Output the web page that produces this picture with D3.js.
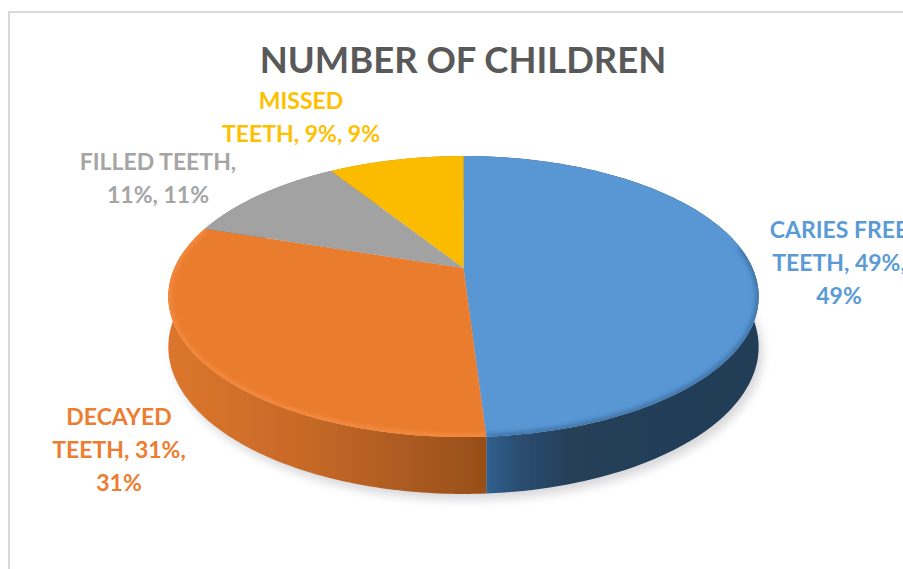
<!DOCTYPE html>
<html>
<head>
<meta charset="utf-8">
<style>
  html, body { margin: 0; padding: 0; background: #fff; overflow: hidden; }
  svg { display: block; }
  text { font-family: Lato, "Open Sans", sans-serif; font-weight: 700; }
</style>
<script src="https://cdn.jsdelivr.net/npm/d3@7/dist/d3.min.js"></script>
</head>
<body>
<svg id="chart" width="903" height="569"></svg>
<script>
// Chart content
const chartTitle = "NUMBER OF CHILDREN";
const categories = ["CARIES FREE TEETH", "DECAYED TEETH", "FILLED TEETH", "MISSED TEETH"];
const shares = [49, 31, 11, 9];
const wordsPerLine = [[2, 2, 1], [1, 2, 1], [2, 2], [1, 3]];

// Palette per slice
const topColors = ["#5896d4", "#ea7b2e", "#a2a2a2", "#fbbc05"];
const labelColors = ["#5b9bd5", "#ed7d31", "#a5a5a5", "#ffc000"];
const sideStops = [
  [[0, "#2f5f8e"], [0.12, "#2a4d70"], [0.3, "#253f59"], [1, "#233d57"]],
  [[0, "#dc762d"], [0.45, "#c66827"], [0.8, "#a7581f"], [1, "#974e18"]],
  [[0, "#6f6f6f"], [1, "#6f6f6f"]],
  [[0, "#ab8000"], [1, "#ab8000"]]
];

// Label anchors (centre x, first baseline y)
const labelAnchors = [[839, 238], [119, 425], [158, 170], [301, 109]];
const lineHeight = 33;

// Perspective model of the tilted disc
const view = { cx: 463.5, cy: 268, rx: 289, ry: 134.7, tilt: 0.203, drop: 49, ryBase: 141 };
const rim = (a, base) => {
  const u = Math.sin(a), v = -Math.cos(a), w = 1 - view.tilt * v;
  return [
    view.cx + view.rx * u / w,
    view.cy + (base ? view.drop : 0) + (base ? view.ryBase : view.ry) * v / w
  ];
};
const sampleArc = (a0, a1, base) =>
  d3.range(0, 121).map(i => rim(a0 + (a1 - a0) * i / 120, base));

const svg = d3.select("#chart");
const defs = svg.append("defs");
const line = d3.line();

const blur = (id, dev) =>
  defs.append("filter").attr("id", id)
    .attr("x", "-10%").attr("y", "-10%").attr("width", "120%").attr("height", "120%")
    .append("feGaussianBlur").attr("stdDeviation", dev);
blur("soft", 0.7);
blur("rimSoft", 2.2);
blur("shadow", 5);

const slices = d3.pie().sort(null).value(d => d)(shares);

// Chart frame
svg.append("rect")
  .attr("x", 9).attr("y", 12).attr("width", 960).attr("height", 640)
  .attr("fill", "#fff").attr("stroke", "#d9d9d9").attr("stroke-width", 2);

// Soft ground shadow under the disc
svg.append("path")
  .attr("d", line(sampleArc(0, 2 * Math.PI, true)) + "Z")
  .attr("transform", "translate(4,6)")
  .attr("fill", "#d8d8dc")
  .attr("filter", "url(#shadow)");

// Side wall gradients run left to right across the wall
sideStops.forEach((stops, i) => {
  const reversed = i === 0;
  const g = defs.append("linearGradient").attr("id", "side" + i)
    .attr("gradientUnits", "userSpaceOnUse")
    .attr("x1", reversed ? 487 : 168).attr("x2", reversed ? 760 : 487)
    .attr("y1", 0).attr("y2", 0);
  stops.forEach(([o, c]) => g.append("stop").attr("offset", o).attr("stop-color", c));
});

const pieGroup = svg.append("g").attr("filter", "url(#soft)");

// Side walls
pieGroup.selectAll("path.wall").data(slices).join("path")
  .attr("class", "wall")
  .attr("d", d => line(
    sampleArc(d.startAngle, d.endAngle, false)
      .concat(sampleArc(d.endAngle, d.startAngle, true))) + "Z")
  .attr("fill", (d, i) => `url(#side${i})`);

// Top faces
pieGroup.selectAll("path.face").data(slices).join("path")
  .attr("class", "face")
  .attr("d", d => line(
    [[view.cx, view.cy]].concat(sampleArc(d.startAngle, d.endAngle, false))) + "Z")
  .attr("fill", (d, i) => topColors[i]);

// Soft bevel along the front rim of the two large slices
const bevelColors = ["#3f75a8", "#f58a40"];
slices.slice(0, 2).forEach((d, i) => {
  const clip = defs.append("clipPath").attr("id", "faceSlice" + i);
  clip.append("path").attr("d", line(
    [[view.cx, view.cy]].concat(sampleArc(d.startAngle, d.endAngle, false))) + "Z");
  const from = i === 0 ? Math.max(d.startAngle, Math.PI * 0.45) : d.startAngle;
  const to = i === 1 ? Math.min(d.endAngle, Math.PI * 1.6) : d.endAngle;
  svg.append("g").attr("clip-path", `url(#faceSlice${i})`)
    .append("path")
    .attr("d", line(sampleArc(from, to, false)))
    .attr("fill", "none")
    .attr("stroke", bevelColors[i])
    .attr("stroke-width", 6)
    .attr("filter", "url(#rimSoft)");
});

// Title
svg.append("text")
  .attr("x", 463).attr("y", 73)
  .attr("text-anchor", "middle")
  .attr("font-size", 36.4)
  .attr("fill", "#595959")
  .text(chartTitle);

// Data labels: category, value, value, wrapped over several lines
categories.forEach((name, i) => {
  const words = `${name}, ${shares[i]}%, ${shares[i]}%`.split(" ");
  let at = 0;
  const lines = wordsPerLine[i].map(n => {
    const part = words.slice(at, at + n).join(" ");
    at += n;
    return part;
  });
  const [x, y] = labelAnchors[i];
  svg.append("text")
    .attr("text-anchor", "middle")
    .attr("font-size", 23)
    .attr("fill", labelColors[i])
    .selectAll("tspan").data(lines).join("tspan")
    .attr("x", x)
    .attr("y", (d, j) => y + j * lineHeight)
    .text(d => d);
});
</script>
</body>
</html>
